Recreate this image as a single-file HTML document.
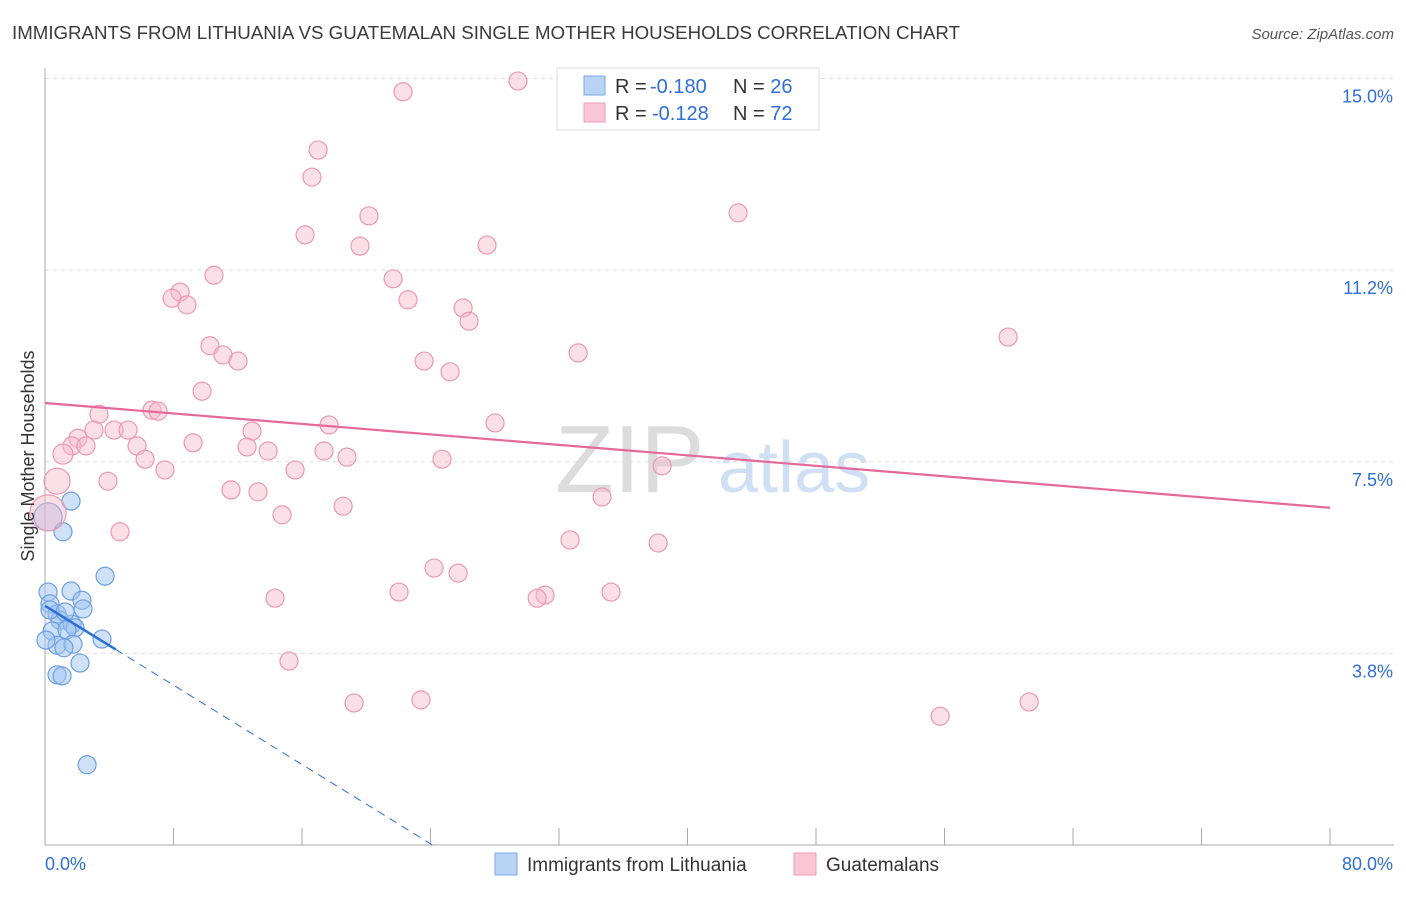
<!DOCTYPE html>
<html><head><meta charset="utf-8"><style>
body{margin:0;background:#fff;font-family:"Liberation Sans",sans-serif}
svg text{font-family:"Liberation Sans",sans-serif}
</style></head><body>
<svg id="c" width="1406" height="892" xmlns="http://www.w3.org/2000/svg">
<text x="12" y="39" font-size="18.7" fill="#3a3a3a">IMMIGRANTS FROM LITHUANIA VS GUATEMALAN SINGLE MOTHER HOUSEHOLDS CORRELATION CHART</text>
<text x="1394" y="39" font-size="15" fill="#555" text-anchor="end" font-style="italic">Source: ZipAtlas.com</text>
<text x="555" y="492" font-size="96" font-family="Liberation Serif" fill="#dcdcdc">ZIP</text>
<text x="718" y="492" font-size="72" fill="#cfdff4">atlas</text>
<g id="grid"></g><g id="axes"></g><g id="pts"></g><g id="trend"></g>
<text transform="translate(34,456) rotate(-90)" font-size="18" fill="#333" text-anchor="middle">Single Mother Households</text>
<g>
<rect x="557" y="68" width="262" height="62" fill="#fff" stroke="#ddd"/>
<rect x="584" y="76" width="21" height="19" fill="#b9d3f5" stroke="#7aa8e6"/>
<rect x="584" y="103" width="21" height="19" fill="#fac6d5" stroke="#ef9db6"/>
<text x="615" y="93" font-size="20" fill="#333">R = <tspan x="650" fill="#2f6fd6">-0.180</tspan><tspan x="733">N = </tspan><tspan fill="#2f6fd6">26</tspan></text>
<text x="615" y="120" font-size="20" fill="#333">R = <tspan x="652" fill="#2f6fd6">-0.128</tspan><tspan x="733">N = </tspan><tspan fill="#2f6fd6">72</tspan></text>
</g>
<g>
<rect x="495" y="853" width="22" height="22" fill="#b9d3f5" stroke="#7aa8e6"/>
<text x="527" y="871" font-size="19" fill="#333">Immigrants from Lithuania</text>
<rect x="794" y="853" width="22" height="22" fill="#fac6d5" stroke="#ef9db6"/>
<text x="826" y="871" font-size="19" fill="#333">Guatemalans</text>
</g>
</svg>
<script>
const yTicks=[3.75,7.5,11.25,15];
const yTickLabels=["3.8%","7.5%","11.2%","15.0%"];
const xTicks=[0,8,16,24,32,40,48,56,64,72,80];
const xEndLabels=["0.0%","80.0%"];
const blueX=[0.19,1.62,1.12,3.74,0.19,1.62,2.30,0.31,2.37,0.75,0.93,1.68,1.87,0.44,1.37,3.55,0.75,1.74,1.18,2.18,0.75,1.06,2.62,0.31,1.25,0.06];
const blueY=[6.42,6.73,6.13,5.26,4.95,4.97,4.79,4.72,4.62,4.52,4.40,4.32,4.25,4.19,4.21,4.03,3.91,3.93,3.86,3.56,3.33,3.31,1.57,4.60,4.56,4.01];
const blueR=[14,9,9,9,9,9,9,9,9,9,9,9,9,9,9,9,9,9,9,9,9,9,9,9,9,9];
const pinkX=[29.45,22.29,17.0,16.62,43.15,20.17,16.19,19.61,27.52,10.52,21.67,8.41,7.91,8.84,22.60,26.03,26.40,59.96,10.27,11.08,12.02,33.19,23.60,25.22,9.78,6.66,7.04,3.36,17.68,28.02,3.05,4.30,5.17,12.89,2.05,9.22,1.68,2.55,5.73,12.58,13.89,1.12,6.23,17.37,18.80,24.72,7.47,15.57,38.42,3.92,0.75,11.58,13.26,34.68,18.56,0.19,14.76,4.67,32.69,38.17,24.22,25.72,14.32,22.04,31.13,30.64,35.24,15.19,19.24,23.41,55.73,61.27];
const pinkY=[14.95,14.74,13.60,13.07,12.37,12.31,11.94,11.72,11.74,11.15,11.08,10.82,10.70,10.57,10.67,10.51,10.25,9.94,9.77,9.59,9.47,9.63,9.47,9.26,8.88,8.51,8.49,8.43,8.22,8.26,8.12,8.12,8.12,8.10,7.96,7.87,7.81,7.81,7.81,7.79,7.71,7.65,7.55,7.71,7.59,7.55,7.34,7.34,7.42,7.12,7.12,6.95,6.91,6.81,6.63,6.50,6.46,6.13,5.97,5.91,5.42,5.32,4.83,4.95,4.89,4.83,4.95,3.60,2.78,2.84,2.52,2.80];
const blueTrend=[4.68,-0.194];
const pinkTrend=[8.65,6.60];
const X=v=>45+v*1285/80, Y=v=>845-v*51.1;
const NS="http://www.w3.org/2000/svg";
function mk(p,t,a){const e=document.createElementNS(NS,t);for(const k in a)e.setAttribute(k,a[k]);p.appendChild(e);return e;}
const grid=document.getElementById('grid'),axes=document.getElementById('axes'),pts=document.getElementById('pts'),tr=document.getElementById('trend');
yTicks.forEach((v,i)=>{
 const l=mk(grid,'line',{x1:45,x2:1394,y1:Y(v),y2:Y(v),stroke:'#ddd','stroke-dasharray':'4,4'});
 
 
 const t=mk(grid,'text',{x:1393,y:Y(v)+24,'font-size':18,fill:'#2f6fd6','text-anchor':'end'});t.textContent=yTickLabels[i];
 
 
});
const ya=mk(axes,'line',{x1:45,x2:45,y1:68,y2:845,stroke:'#aaa'});


const xa=mk(axes,'line',{x1:45,x2:1394,y1:845,y2:845,stroke:'#aaa'});


xTicks.forEach(v=>{const t=mk(axes,'line',{x1:X(v),x2:X(v),y1:828,y2:845,stroke:'#aaa'});
 
 });
[[0,'start',45],[80,'end',1393]].forEach((d,i)=>{const t=mk(axes,'text',{x:d[2],y:870,'font-size':18,fill:'#2f6fd6','text-anchor':d[1]});t.textContent=xEndLabels[i];
 
 });
blueX.forEach((x,i)=>{const c=mk(pts,'circle',{cx:X(x),cy:Y(blueY[i]),r:blueR[i],fill:'rgba(160,196,240,0.5)',stroke:'#6b9fe2','stroke-width':1.2});
 
 });
pinkX.forEach((x,i)=>{let r=9;if(i==55)r=18;else if(i==50)r=13;else if(i==41)r=10;
 const c=mk(pts,'circle',{cx:X(x),cy:Y(pinkY[i]),r:r,fill:'rgba(246,184,202,0.45)',stroke:'#eb98b2','stroke-width':1.2});
 
 });
const bAt=x=>blueTrend[0]+blueTrend[1]*x;
const b1=mk(tr,'line',{x1:X(0),y1:Y(bAt(0)),x2:X(4.4),y2:Y(bAt(4.4)),stroke:'#2a6fd4','stroke-width':2.5});


const x0=blueTrend[0]/-blueTrend[1];
const b2=mk(tr,'line',{x1:X(4.4),y1:Y(bAt(4.4)),x2:X(x0),y2:Y(0),stroke:'#2a6fd4','stroke-width':1,'stroke-dasharray':'8,6'});


const p1=mk(tr,'line',{x1:X(0),y1:Y(pinkTrend[0]),x2:X(80),y2:Y(pinkTrend[1]),stroke:'#e5689a','stroke-width':2.2});


</script>
</body></html>
